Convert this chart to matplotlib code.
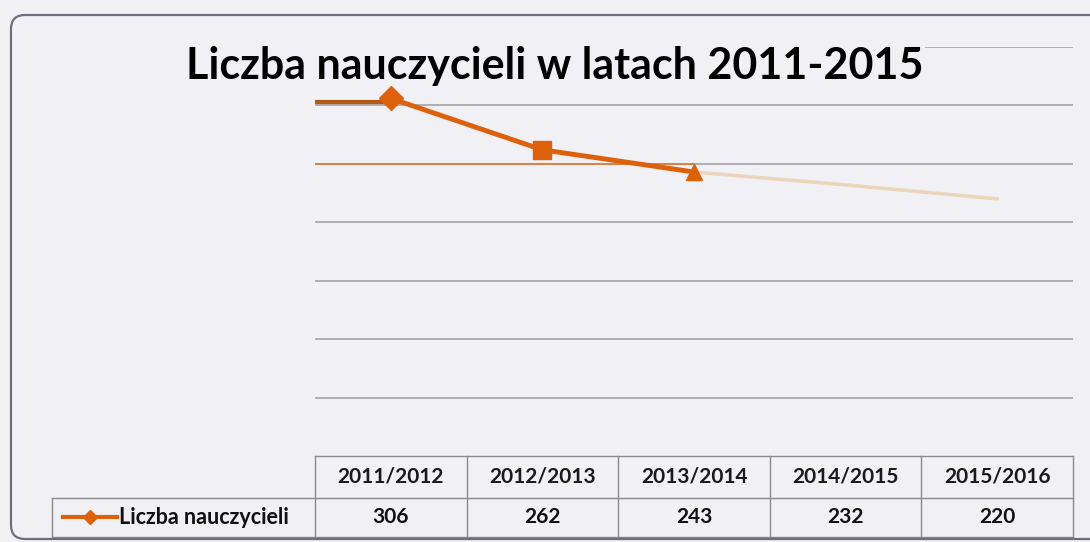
import numpy as np
import matplotlib.pyplot as plt
from matplotlib.patches import FancyBboxPatch

plt.rcParams['font.family'] = ['Lato', 'DejaVu Sans']

# dane
lata = ['2011/2012', '2012/2013', '2013/2014', '2014/2015', '2015/2016']
liczba = [306, 262, 243, 232, 220]
seria = 'Liczba nauczycieli'
tytul = 'Liczba nauczycieli w latach 2011-2015'
siatka = [50, 100, 150, 200, 250, 300, 350]

tlo = '#F0F0F5'
pomar = '#DD600A'

fig = plt.figure(figsize=(10.9, 5.42), dpi=100, facecolor=tlo)
ax = fig.add_axes([0.289, 0.1587, 0.6954, 0.7546])
ax.set_facecolor('none')
ax.set_xlim(-0.5, 4.5)
ax.set_ylim(0, 350)
for s in ax.spines.values():
    s.set_visible(False)
ax.set_xticks([])
ax.set_yticks([])

x = np.arange(len(lata))

# linie siatki
for g in siatka:
    ax.plot([-0.5, 4.5], [g, g], color='#9c9ca2', lw=1.1, zorder=1)
# zabarwione fragmenty siatki (jak na skanie)
ax.plot([-0.5, 0], [303, 303], color='#B05A12', lw=3, zorder=2)
ax.plot([-0.5, 2], [250, 250], color='#E07A35', lw=1.2, zorder=2)

# wyblakła końcówka serii
ax.plot(x[2:], liczba[2:], color='#E8CDA8', lw=2.5, alpha=0.75, zorder=3)
# główna seria
ax.plot(x[:3], liczba[:3], color=pomar, lw=3.5, zorder=4)
znaczniki = ['D', 's', '^']
rozm = [12, 13, 12]
for i in range(3):
    ax.plot(x[i], liczba[i], marker=znaczniki[i], ms=rozm[i], color=pomar,
            mec=pomar, zorder=5)

# tabela danych
tr = ax.get_xaxis_transform()
y0, y1, y2 = 0.0, -0.1027, -0.198
xl = -2.235
kol = '#8c8c8c'
def linia(xs, ys):
    ax.plot(xs, ys, color=kol, lw=1.0, transform=tr, clip_on=False, zorder=2)

linia([-0.5, 4.5], [y0, y0])
linia([xl, 4.5], [y1, y1])
linia([xl, 4.5], [y2, y2])
linia([xl, xl], [y1, y2])
for k in range(6):
    linia([k - 0.5, k - 0.5], [y0, y2])

for i, (r, v) in enumerate(zip(lata, liczba)):
    ax.text(i, (y0 + y1) / 2, r, transform=tr, ha='center', va='center',
            fontsize=15, fontweight='bold', color='#1a1a1a')
    ax.text(i, (y1 + y2) / 2, str(v), transform=tr, ha='center', va='center',
            fontsize=15, fontweight='bold', color='#111111')

# legenda w tabeli
ym = (y1 + y2) / 2
ax.plot([xl + 0.07, xl + 0.43], [ym, ym], color=pomar, lw=3, transform=tr,
        clip_on=False)
ax.plot([xl + 0.25], [ym], marker='D', ms=7, color=pomar, transform=tr,
        clip_on=False)
ax.text(xl + 0.44, ym, seria, transform=tr, ha='left', va='center',
        fontsize=15.5, fontweight='bold', color='#111111')

# tytuł (pod serią, nad siatką)
ax.text(0.509, 0.878, tytul, transform=fig.transFigure, ha='center',
        va='center', fontsize=31, fontweight='bold', color='black', zorder=1.5,
        bbox=dict(facecolor=tlo, edgecolor='none', pad=1))

# ramka wykresu
rama = FancyBboxPatch((11, 3), 1100, 524, boxstyle='round,pad=0,rounding_size=14',
                      transform=None, facecolor='none', edgecolor='#6e6e80',
                      lw=1.6, zorder=0)
fig.patches.append(rama)

fig.savefig('out.png', dpi=100, facecolor=tlo)
